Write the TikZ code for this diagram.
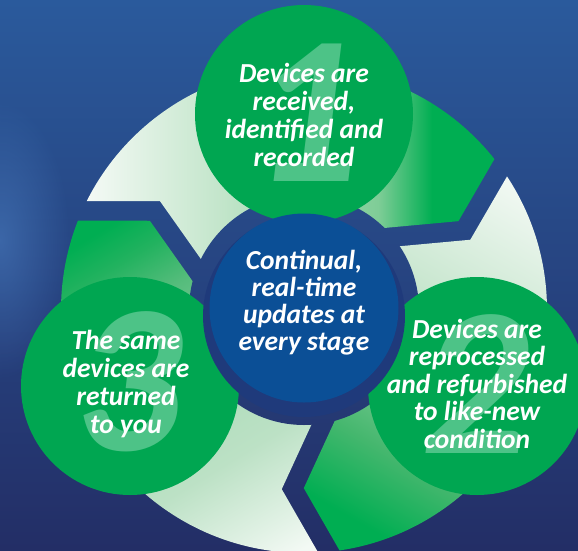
\documentclass[tikz,border=0pt]{standalone}
\usepackage{fontspec}
\setmainfont{Carlito}
\usetikzlibrary{calc,fadings}

\definecolor{bgtop}{HTML}{2A5A9C}
\definecolor{bgmid}{HTML}{1E468B}
\definecolor{bgbot}{HTML}{232E66}
\definecolor{glow}{HTML}{4C80C4}
\definecolor{cgreen}{HTML}{00A651}
\definecolor{numgreen}{HTML}{4DC387}
\definecolor{navy}{HTML}{1F3A7B}
\definecolor{cblue}{HTML}{0B4F96}
\definecolor{pg}{HTML}{00AE52}
\definecolor{pw}{HTML}{F3F9F4}
\definecolor{aA1}{HTML}{C2E5CA}
\definecolor{aA2}{HTML}{7FCD97}
\definecolor{bB1}{HTML}{C5E5CC}
\definecolor{bB2}{HTML}{7FCB96}
\definecolor{bB3}{HTML}{45B76E}
\definecolor{cC1}{HTML}{22B25F}
\definecolor{cC2}{HTML}{54BC7B}
\definecolor{cC3}{HTML}{B5DFC0}
\definecolor{cC4}{HTML}{BCE1C5}
\definecolor{cC5}{HTML}{E0F1E4}

\pgfdeclareverticalshading{shA}{100bp}{color(0bp)=(pw); color(37.5bp)=(pw); color(46.75bp)=(aA1); color(57.5bp)=(aA2); color(61.25bp)=(pg); color(100bp)=(pg)}
\pgfdeclareverticalshading{shB}{100bp}{color(0bp)=(pw); color(37.5bp)=(pw); color(47.5bp)=(bB1); color(52.5bp)=(bB2); color(57.5bp)=(bB3); color(62.5bp)=(pg); color(100bp)=(pg)}
\pgfdeclareverticalshading{shC}{100bp}{color(0bp)=(pg); color(37.5bp)=(pg); color(40bp)=(cC1); color(43bp)=(cC2); color(52.5bp)=(cC3); color(55bp)=(cC4); color(60bp)=(cC5); color(62.5bp)=(pw); color(100bp)=(pw)}

\tikzfading[name=glowfade, inner color=transparent!45, outer color=transparent!100]

\newcommand{\offchev}[3]{%
  \coordinate (#3a1) at ($(#1o)!#2!90:(#1b)$);
  \coordinate (#3a2) at ($(#1b)!#2!-90:(#1o)$);
  \coordinate (#3b1) at ($(#1b)!#2!90:(#1i)$);
  \coordinate (#3b2) at ($(#1i)!#2!-90:(#1b)$);
  \coordinate (#3m) at (intersection of #3a1--#3a2 and #3b1--#3b2);
  \coordinate (#3x) at ($(#3a2)!2!(#3a1)$);
  \coordinate (#3y) at ($(#3b1)!1.6!(#3b2)$);
}

\tikzset{
  bgshade/.style={top color=bgtop, middle color=bgmid, bottom color=bgbot},
  disc/.style={circle, inner sep=0pt, minimum size=218pt, fill=cgreen},
  bignum/.style={inner sep=0pt, text=numgreen, font=\fontsize{212}{212}\selectfont\bfseries\itshape},
  txt/.style={inner sep=0pt, align=center, text=white, font=\fontsize{27.5}{28}\selectfont\bfseries\itshape},
}

\begin{document}
\begin{tikzpicture}[x=1pt,y=-1pt]
\useasboundingbox (0,0) rectangle (578,550);
% background
\shade[bgshade] (0,0) rectangle (578,550);
\fill[glow, path fading=glowfade] (0,240) ellipse [x radius=70, y radius=140];

% ring geometry
\coordinate (O) at (304,310);
\def\Ro{243}\def\Ri{115}\def\Rm{179}
\foreach \n/\b in {P/-146.4, Q/-26.4, R/93.6} {
  \coordinate (\n o) at ($(O)+(\b-9.5:\Ro)$);
  \coordinate (\n b) at ($(O)+(\b:\Rm)$);
  \coordinate (\n i) at ($(O)+(\b-13:\Ri)$);
}
\offchev{P}{9.8pt}{A1}
\offchev{Q}{-9.8pt}{A2}
\offchev{Q}{9.8pt}{B2}
\offchev{R}{-9.8pt}{B3}
\offchev{R}{9.8pt}{C3}
\offchev{P}{-9.8pt}{C1}

% piece A (top)
\begin{scope}
  \clip (O) circle[radius=\Ro];
  \clip (A1x) -- (A1m) -- (A1y) -- (A2y) -- (A2m) -- (A2x) -- ($(O)+(-45:700)$) -- ($(O)+(-90:700)$) -- ($(O)+(-140:700)$) -- cycle;
  \begin{scope}[transform canvas={rotate around={-90:(270,200)}}]
    \shade[shading=shA] (-180,-160) rectangle (720,560);
  \end{scope}
\end{scope}
% piece B (right)
\begin{scope}
  \clip (O) circle[radius=\Ro];
  \clip (B2x) -- (B2m) -- (B2y) -- (B3y) -- (B3m) -- (B3x) -- ($(O)+(75:700)$) -- ($(O)+(20:700)$) -- ($(O)+(-30:700)$) -- cycle;
  \begin{scope}[transform canvas={rotate around={150.1:(413.5,337.5)}}]
    \shade[shading=shB] (-36.5,-37.5) rectangle (863.5,712.5);
  \end{scope}
\end{scope}
% piece C (bottom left)
\begin{scope}
  \clip (O) circle[radius=\Ro];
  \clip (C3x) -- (C3m) -- (C3y) -- (C1y) -- (C1m) -- (C1x) -- ($(O)+(200:700)$) -- ($(O)+(150:700)$) -- ($(O)+(95:700)$) -- cycle;
  \begin{scope}[transform canvas={rotate around={-148.9:(207.5,386.5)}}]
    \shade[shading=shC] (-242.5,9.5) rectangle (657.5,763.5);
  \end{scope}
\end{scope}
% hole of the ring: background again
\begin{scope}
  \clip (O) circle[radius=\Ri];
  \shade[bgshade] (0,0) rectangle (578,550);
\end{scope}

% green circles
\node[disc] (c1) at (304,114) {};
\node[disc] (c2) at (477,386) {};
\node[disc] (c3) at (130,386) {};
\node[bignum] (n1) at (306,113) {1};
\node[bignum] (n2) at (475,384) {2};
\node[bignum] (n3) at (128,382) {3};

% centre
\node[circle, inner sep=0pt, minimum size=202pt, fill=navy] (ring) at (304,316) {};
\node[circle, inner sep=0pt, minimum size=189pt, fill=cblue] (hub) at (304,308) {};

% texts (base anchor = baseline of the last line)
\node[txt, anchor=base] (t1) at (304,166) {Devices are\\received,\\identified and\\recorded};
\node[txt, anchor=base, font=\fontsize{27.5}{27.5}\selectfont\bfseries\itshape] (t2) at (477,448) {Devices are\\reprocessed\\and refurbished\\to like-new\\condition};
\node[txt, anchor=base] (t3) at (126,433) {The same\\devices are\\returned\\to you};
\node[txt, anchor=base, font=\fontsize{27.5}{26.7}\selectfont\bfseries\itshape] (t0) at (304,350) {Continual,\\real-time\\updates at\\every stage};
\end{tikzpicture}
\end{document}
